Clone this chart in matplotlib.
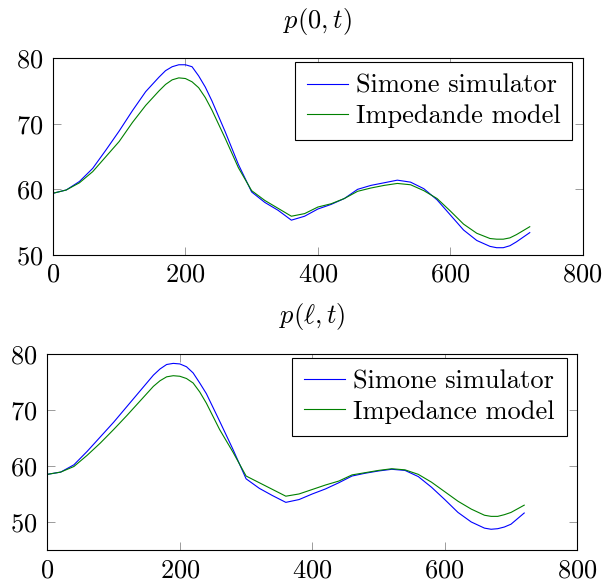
import matplotlib.pyplot as plt

plt.rcParams["font.family"] = "cmr10"
plt.rcParams["mathtext.fontset"] = "cm"
plt.rcParams["axes.formatter.use_mathtext"] = True

# time samples (s)
t = [0, 20, 40, 60, 80, 100, 120, 140, 160, 170, 180, 190, 200, 210, 220, 230,
     240, 260, 280, 300, 320, 340, 360, 380, 400, 420, 440, 460, 480, 500, 520,
     540, 560, 580, 600, 620, 640, 660, 670, 680, 690, 700, 720]

# p(0,t)
sim_0 = [59.4, 59.9, 61.2, 63.2, 66.0, 68.9, 72.0, 74.9, 77.1, 78.1, 78.7, 79.0,
         79.0, 78.7, 77.3, 75.6, 73.5, 68.8, 63.8, 59.6, 58.0, 56.8, 55.3, 55.9,
         57.0, 57.7, 58.6, 60.0, 60.6, 61.0, 61.4, 61.1, 60.1, 58.4, 56.1, 53.8,
         52.2, 51.3, 51.1, 51.1, 51.4, 52.0, 53.4]
imp_0 = [59.4, 59.9, 61.0, 62.7, 65.0, 67.3, 70.2, 72.8, 75.0, 76.0, 76.7, 77.0,
         76.9, 76.4, 75.5, 74.0, 72.1, 67.8, 63.3, 59.8, 58.3, 57.1, 55.9, 56.3,
         57.3, 57.8, 58.6, 59.7, 60.2, 60.6, 60.9, 60.7, 59.8, 58.6, 56.7, 54.7,
         53.3, 52.5, 52.4, 52.4, 52.6, 53.1, 54.3]

# p(l,t)
sim_l = [58.5, 58.9, 60.2, 62.6, 65.2, 67.8, 70.6, 73.4, 76.2, 77.3, 78.1, 78.3,
         78.2, 77.7, 76.6, 74.8, 72.9, 68.0, 63.0, 57.7, 56.0, 54.7, 53.5, 54.0,
         55.0, 55.9, 57.0, 58.2, 58.7, 59.1, 59.4, 59.2, 58.1, 56.2, 54.0, 51.7,
         50.0, 48.9, 48.7, 48.8, 49.1, 49.6, 51.6]
imp_l = [58.5, 58.9, 59.9, 61.9, 64.1, 66.5, 69.0, 71.6, 74.2, 75.2, 75.9, 76.1,
         76.0, 75.6, 74.8, 73.2, 71.2, 66.5, 62.5, 58.2, 57.0, 55.8, 54.6, 55.0,
         55.8, 56.6, 57.3, 58.4, 58.8, 59.2, 59.5, 59.3, 58.5, 57.1, 55.4, 53.7,
         52.3, 51.2, 51.0, 51.0, 51.3, 51.7, 53.0]

fig = plt.figure(figsize=(6.16, 5.82), dpi=100)
ax1 = fig.add_axes([0.086, 0.562, 0.860, 0.338])
ax2 = fig.add_axes([0.077, 0.055, 0.860, 0.337])

panels = [
    (ax1, sim_0, imp_0, "Impedande model", r"$p(0,t)$", (50, 80)),
    (ax2, sim_l, imp_l, "Impedance model", r"$p(\ell,t)$", (45, 80)),
]

for ax, sim, imp, lab, title, ylim in panels:
    ax.plot(t, sim, color="blue", lw=0.8, label="Simone simulator")
    ax.plot(t, imp, color="#008000", lw=0.8, label=lab)
    ax.set_xlim(0, 800)
    ax.set_ylim(*ylim)
    ax.set_xticks([0, 200, 400, 600, 800])
    ax.set_yticks([50, 60, 70, 80])
    ax.tick_params(direction="in", length=6, width=0.6, color="0.55",
                   top=True, right=True, labelsize=19)
    ax.tick_params(axis="x", pad=6)
    ax.tick_params(axis="y", pad=7)
    for s in ax.spines.values():
        s.set_linewidth(0.8)
    ax.set_title(title, fontsize=19, pad=22)
    leg = ax.legend(loc="upper right", bbox_to_anchor=(0.98, 0.98),
                    borderaxespad=0, fontsize=19, fancybox=False, framealpha=1,
                    edgecolor="black", handlelength=1.55, borderpad=0.45,
                    labelspacing=0.25, handletextpad=0.3)
    leg.get_frame().set_linewidth(0.8)

fig.savefig("out.png", dpi=100)
